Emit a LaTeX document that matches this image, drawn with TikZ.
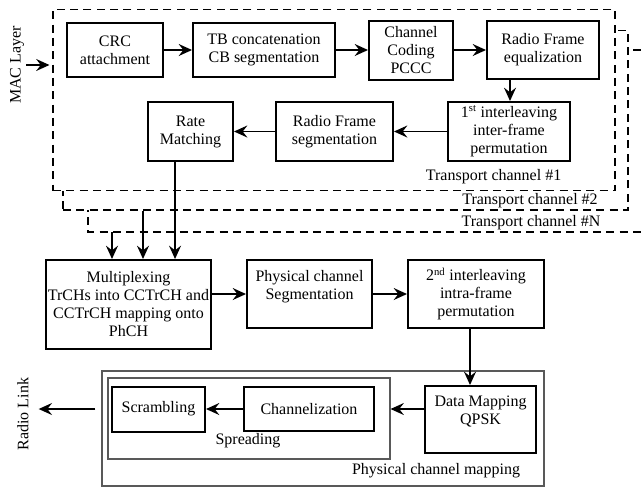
\documentclass[tikz,border=0pt]{standalone}
\usepackage{fontspec}
\setmainfont{Liberation Serif}
\usetikzlibrary{arrows.meta,positioning}

\begin{document}
\begin{tikzpicture}[x=0.75pt, y=-0.75pt, every node/.style={font=\rmfamily\fontsize{12pt}{13.5pt}\selectfont},
	blk/.style={draw, line width=1.5pt, align=center, inner sep=1pt},
	grp/.style={draw=black!65, line width=0.8pt, inner sep=0pt},
	tcbox/.style={draw, line width=1.3pt, dash pattern=on 6pt off 4pt, fill=white, inner sep=0pt},
	arr/.style={-{Stealth[length=10pt, width=9pt, inset=3.5pt]}, line width=1.2pt}]
			\useasboundingbox (0,0) rectangle (641,487);
			\path[tcbox] (641,50) -| (88,232) -- (641,232);
			\node[tcbox, minimum width=423.75pt, minimum height=134.6pt] (tc2) at (345.5,120.25) {};
			\node[tcbox, minimum width=421.5pt, minimum height=135.75pt] (tc1) at (334,100) {};
			
			\node[blk, minimum width=72pt, minimum height=40.5pt] (crc) at (115,50) {CRC\\attachment};
			\node[blk, minimum width=106.5pt, minimum height=40.5pt, right=21pt of crc] (tb) {TB concatenation\\CB segmentation};
			\node[blk, minimum width=63pt, minimum height=44.25pt, right=24pt of tb] (cc) {Channel\\Coding\\PCCC};
			\node[blk, minimum width=84pt, minimum height=43.5pt, right=24pt of cc] (rfe) {Radio Frame\\equalization};
			\node[blk, minimum width=91.5pt, minimum height=44.25pt] (il1) at (509,131.5) {1\textsuperscript{st} interleaving\\inter-frame\\permutation};
			\node[blk, minimum width=87.75pt, minimum height=44.25pt, left=39.75pt of il1] (rfs) {Radio Frame\\segmentation};
			\node[blk, minimum width=63.75pt, minimum height=44.25pt, left=30.75pt of rfs] (rm) {Rate\\Matching};
			
			\node[anchor=east] (lbl1) at (566,177) {Transport channel \#1};
			\node (lbl2) at (530,200.5) {Transport channel \#2};
			\node (lblN) at (531,222.5) {Transport channel \#N};
			
			\node[rotate=90] (mac) at (17,65) {MAC Layer};
			\draw[arr] ([xshift=-2pt]mac.south) -- ([xshift=-2pt]mac.south -| tc1.west);
			\draw[arr] (crc) -- (tb);
			\draw[arr] (tb) -- (cc);
			\draw[arr] (cc) -- (rfe);
			\draw[arr] ([xshift=-24.75pt]rfe.south) -- ([xshift=-24.75pt]rfe.south |- il1.north);
			\draw[arr] (il1) -- (rfs);
			\draw[arr] (rfs) -- (rm);
			
			\node[blk, minimum width=123.75pt, minimum height=66.75pt] (mux) at (128.5,304.5) {Multiplexing\\TrCHs into CCTrCH and\\CCTrCH mapping onto\\PhCH};
			\node[blk, minimum width=93.75pt, minimum height=51pt, right=25.5pt of mux.north east, anchor=north west] (pcs) {Physical channel\\Segmentation\\\mbox{}};
			\node[blk, minimum width=102pt, minimum height=51pt, right=25.5pt of pcs] (il2) {2\textsuperscript{nd} interleaving\\intra-frame\\permutation};
			
			\coordinate (x2) at (143,0);
			\coordinate (nb) at (112,232);
			\draw[arr] (nb) -- (nb |- mux.north);
			\draw[arr] (tc2.south -| x2) -- (mux.north -| x2);
			\draw[arr] ([xshift=-11.6pt]rm.south) -- ([xshift=-11.6pt]rm.south |- mux.north);
			\draw[arr] (mux.east |- pcs) -- (pcs);
			\draw[arr] (pcs) -- (il2);
			
			\node[grp, minimum width=331.5pt, minimum height=86.25pt] (pcm) at (323,428.5) {};
			\node[grp, minimum width=211.5pt, minimum height=60.75pt] (spread) at (249,418.5) {};
			\node[blk, minimum width=83.25pt, minimum height=50.25pt] (dm) at (480.5,419.5) {Data Mapping\\QPSK\\\mbox{}};
			\node[blk, minimum width=97.5pt, minimum height=33pt] (chan) at (309,409) {Channelization};
			\node[blk, minimum width=69.75pt, minimum height=33.75pt, left=27.75pt of chan] (scr) {Scrambling};
			\node (sprlbl) at (248,441) {Spreading};
			\node (pcmlbl) at (436,471) {Physical channel mapping};
			\node[rotate=90] (rl) at (23,414) {Radio Link};
			
			\draw[arr] ([xshift=-4.5pt]il2.south) -- ([xshift=-4.5pt]il2.south |- dm.north);
			\draw[arr] (dm.west |- chan) -- (spread.east |- chan);
			\draw[arr] (chan) -- (scr);
			\draw[arr] ([xshift=-4.5pt]pcm.west |- scr) -- ([xshift=4pt]rl.south |- scr);
		\end{tikzpicture}
\end{document}
